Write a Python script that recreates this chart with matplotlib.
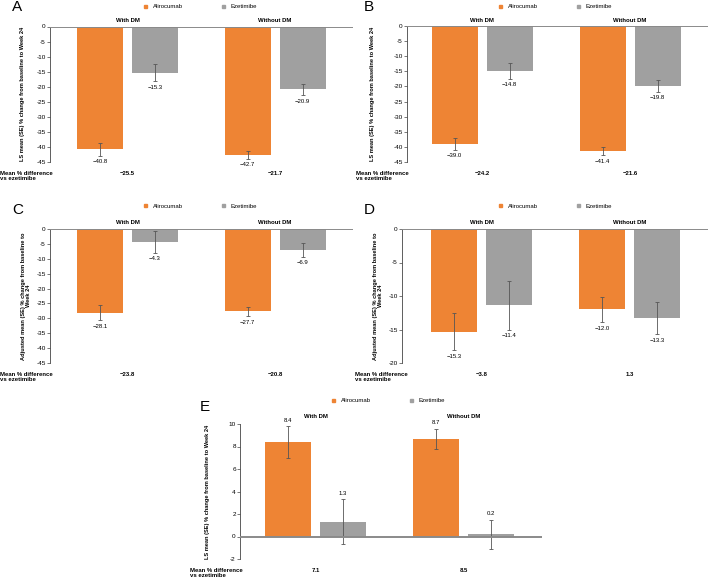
import matplotlib
matplotlib.use("Agg")
import matplotlib.pyplot as plt
from matplotlib.patches import Patch

plt.rcParams['font.family'] = ['Liberation Sans', 'DejaVu Sans']

W, H = 709, 582

groups = ["With DM", "Without DM"]
series = ["Alirocumab", "Ezetimibe"]
colors = ["#EE8434", "#A0A0A0"]

# Panel data
A_ali = [-40.8, -42.7]; A_ali_se = [2.2, 1.3]
A_eze = [-15.3, -20.9]; A_eze_se = [2.9, 1.95]
A_diff = ["\u221225.5", "\u221221.7"]

B_ali = [-39.0, -41.4]; B_ali_se = [2.0, 1.4]
B_eze = [-14.8, -19.8]; B_eze_se = [2.7, 2.0]
B_diff = ["\u221224.2", "\u221221.6"]

C_ali = [-28.1, -27.7]; C_ali_se = [2.6, 1.65]
C_eze = [-4.3, -6.9]; C_eze_se = [3.6, 2.35]
C_diff = ["\u221223.8", "\u221220.8"]

D_ali = [-15.3, -12.0]; D_ali_se = [2.8, 1.9]
D_eze = [-11.4, -13.3]; D_eze_se = [3.65, 2.4]
D_diff = ["\u22123.8", "1.3"]

E_ali = [8.4, 8.7]; E_ali_se = [1.4, 0.9]
E_eze = [1.3, 0.2]; E_eze_se = [2.0, 1.3]
E_diff = ["7.1", "8.5"]

ylab_ls = "LS mean (SE) % change from baseline to Week 24"
ylab_adj = "Adjusted mean (SE) % change from baseline to\nWeek 24"

fig = plt.figure(figsize=(W / 100, H / 100), dpi=100)

def fx(px):
    return px / W

def fy(py):
    return 1 - py / H

FS = 4.3

def fmt(v):
    s = f"{abs(v):.1f}"
    return ("\u2212" + s) if v < 0 else s

def panel(letter, axbox, centers, ylim, yticks, ali, ali_se, eze, eze_se, diff,
          ylabel, ylab_x, letter_xy, legend_y, legend_x, group_y, diff_y, diff_lab_x):
    x0, y0, x1, y1 = axbox
    ax = fig.add_axes([fx(x0), fy(y1), fx(x1 - x0), (y1 - y0) / H])
    c0, c1 = centers
    sp = c1 - c0
    ax.set_xlim((x0 - c0) / sp, (x1 - c0) / sp)
    ax.set_ylim(*ylim)
    bw = 46 / sp
    off = 55 / 2 / sp
    xs = [0, 1]
    data = [(ali, ali_se), (eze, eze_se)]
    for k, (vals, ses) in enumerate(data):
        pos = [x + (-off if k == 0 else off) for x in xs]
        ax.bar(pos, vals, width=bw, color=colors[k], zorder=2, label=series[k])
        ax.errorbar(pos, vals, yerr=ses, fmt="none", ecolor="#555555",
                    elinewidth=0.6, capsize=1.2, capthick=0.6, zorder=3)
        for p, v, s in zip(pos, vals, ses):
            if v < 0:
                ax.annotate(fmt(v), (p, v - s), xytext=(0, -2.5), textcoords="offset points",
                            ha="center", va="top", fontsize=FS)
            else:
                ax.annotate(fmt(v), (p, v + s), xytext=(0, 2.5), textcoords="offset points",
                            ha="center", va="bottom", fontsize=FS)
    ax.axhline(0, color="#8a8a8a", lw=1.4, zorder=4)
    for s in ["top", "right", "bottom"]:
        ax.spines[s].set_visible(False)
    ax.spines["left"].set_color("#444444")
    ax.spines["left"].set_linewidth(0.6)
    ax.set_xticks([])
    ax.set_yticks(yticks)
    ax.set_yticklabels([str(t) for t in yticks])
    ax.tick_params(axis="y", labelsize=4.6, length=2, width=0.5, color="#444444", pad=1)
    # y label
    fig.text(fx(ylab_x), fy((y0 + y1) / 2), ylabel, rotation=90, ha="center", va="center",
             fontsize=4.1, fontweight="bold", linespacing=1.1)
    # letter
    fig.text(fx(letter_xy[0]), fy(letter_xy[1]), letter, fontsize=11, ha="left", va="center")
    # group labels
    for i, g in enumerate(groups):
        fig.text(fx(c0 + i * sp), fy(group_y), g, ha="center", va="center",
                 fontsize=FS, fontweight="bold")
    # mean diff
    fig.text(fx(diff_lab_x), fy(diff_y + 3), "Mean % difference\nvs ezetimibe", ha="left",
             va="center", fontsize=FS, fontweight="bold", linespacing=1.0)
    for i, d in enumerate(diff):
        fig.text(fx(c0 + i * sp), fy(diff_y), d, ha="center", va="center",
                 fontsize=FS, fontweight="bold")
    # legend
    ax.legend(handles=[Patch(color=colors[0]), Patch(color=colors[1])], labels=series,
              loc="center left", bbox_to_anchor=(fx(legend_x), fy(legend_y)),
              bbox_transform=fig.transFigure, ncol=2, frameon=False, fontsize=FS,
              handlelength=0.55, handleheight=0.55, handletextpad=0.9, columnspacing=6.6,
              borderpad=0, borderaxespad=0)
    return ax

panel("A", (50, 26.5, 353, 162), (127.5, 275), (-45, 0), list(range(0, -50, -5)),
      A_ali, A_ali_se, A_eze, A_eze_se, A_diff, ylab_ls, 23, (12, 7), 7, 144, 20, 173, 0)

panel("B", (407, 26, 708, 162), (482, 630), (-45, 0), list(range(0, -50, -5)),
      B_ali, B_ali_se, B_eze, B_eze_se, B_diff, ylab_ls, 373, (364, 7), 7, 499, 20, 173, 356)

panel("C", (50, 229, 353, 363), (127.5, 275), (-45, 0), list(range(0, -50, -5)),
      C_ali, C_ali_se, C_eze, C_eze_se, C_diff, ylab_adj, 26, (12, 210), 206, 144, 222, 374, 0)

panel("D", (402, 229, 708, 363), (481.5, 629.5), (-20, 0), list(range(0, -25, -5)),
      D_ali, D_ali_se, D_eze, D_eze_se, D_diff, ylab_adj, 378, (364, 210), 206, 499, 222, 374, 355)

panel("E", (240, 424, 542, 559), (315.5, 463.5), (-2, 10), list(range(10, -4, -2)),
      E_ali, E_ali_se, E_eze, E_eze_se, E_diff, ylab_ls, 207, (200, 407), 401, 332, 417, 570, 190)

fig.savefig("out.png", dpi=100)
